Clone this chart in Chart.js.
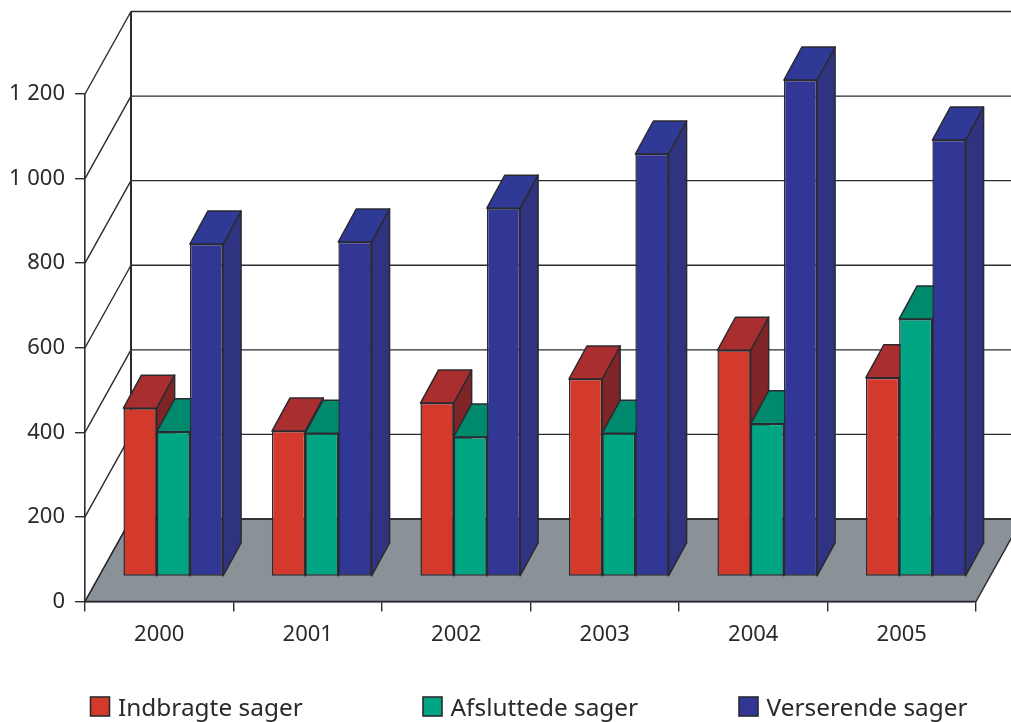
<!DOCTYPE html>
<html>
<head>
<meta charset="utf-8">
<title>Sager 2000-2005</title>
<script src="https://cdn.jsdelivr.net/npm/chart.js@4"></script>
<style>
  html, body { margin: 0; padding: 0; background: #fff; }
  #wrap { width: 1011px; height: 722px; }
</style>
</head>
<body>
<div id="wrap"><canvas id="chart" width="1011" height="722"></canvas></div>
<script>
const years = ["2000", "2001", "2002", "2003", "2004", "2005"];
const indbragte = [398, 344, 410, 467, 535, 470];
const afsluttede = [342, 339, 330, 339, 361, 609];
const verserende = [786, 791, 871, 999, 1174, 1032];
const yTickLabels = ["0", "200", "400", "600", "800", "1 000", "1 200"];

const TEXT = "#2b2a29";
const EDGE = "#2a2a30";
const FONT = '"Noto Sans", sans-serif';

// projection of the 3d box: wall depth and where bars sit on the floor
const WALL = { dx: 46, dy: -82.5 };
const BAR_SHIFT = { dx: 14, dy: -25 };
const BAR_DEPTH = { dx: 18, dy: -33 };

const faces = [
  { top: "#a82e2f", side: "#7f2527" },
  { top: "#008a6d", side: "#00755e" },
  { top: "#2f3a96", side: "#30337f" },
];
const legendX = [90.5, 423, 739];

function poly(ctx, pts, fill) {
  ctx.beginPath();
  pts.forEach((p, i) => (i ? ctx.lineTo(p[0], p[1]) : ctx.moveTo(p[0], p[1])));
  ctx.closePath();
  ctx.fillStyle = fill;
  ctx.fill();
  ctx.stroke();
}

function line(ctx, x1, y1, x2, y2) {
  ctx.beginPath();
  ctx.moveTo(x1, y1);
  ctx.lineTo(x2, y2);
  ctx.stroke();
}

function drawFaces(ctx, meta, f) {
  ctx.save();
  ctx.strokeStyle = EDGE;
  ctx.lineWidth = 1.5;
  ctx.lineJoin = "round";
  meta.data.forEach((bar) => {
    const l = bar.x - bar.width / 2;
    const r = bar.x + bar.width / 2;
    const d = BAR_DEPTH;
    poly(ctx, [[r, bar.y], [r + d.dx, bar.y + d.dy], [r + d.dx, bar.base + d.dy], [r, bar.base]], f.side);
    poly(ctx, [[l, bar.y], [r, bar.y], [r + d.dx, bar.y + d.dy], [l + d.dx, bar.y + d.dy]], f.top);
  });
  ctx.restore();
}

const box3d = {
  id: "box3d",
  // floor and walls go under the axes
  beforeDraw(chart) {
    const { ctx, scales, chartArea, width } = chart;
    const y0 = scales.y.getPixelForValue(0);
    ctx.save();
    ctx.strokeStyle = EDGE;
    ctx.lineWidth = 1.4;
    poly(ctx, [
      [chartArea.left, y0],
      [chartArea.right, y0],
      [chartArea.right + WALL.dx, y0 + WALL.dy],
      [chartArea.left + WALL.dx, y0 + WALL.dy],
    ], "#8a9197");
    yTickLabels.forEach((_, i) => {
      const y = scales.y.getPixelForValue(i * 200);
      line(ctx, chartArea.left, y, chartArea.left + WALL.dx, y + WALL.dy);
      line(ctx, chartArea.left + WALL.dx, y + WALL.dy, width, y + WALL.dy);
    });
    ctx.lineWidth = 2;
    line(ctx, chartArea.left + WALL.dx, y0 + WALL.dy, chartArea.left + WALL.dx,
      scales.y.getPixelForValue(1200) + WALL.dy);
    ctx.restore();
  },
  // chart.js paints the last dataset first, here the left bar has to go first
  beforeDatasetDraw() {
    return false;
  },
  afterDatasetsDraw(chart) {
    const ctx = chart.ctx;
    ctx.save();
    ctx.translate(BAR_SHIFT.dx, BAR_SHIFT.dy);
    chart.data.datasets.forEach((ds, i) => {
      const meta = chart.getDatasetMeta(i);
      drawFaces(ctx, meta, faces[i]);
      meta.controller.draw();
    });
    ctx.restore();
  },
  // legend has uneven gaps in the original so it is placed by hand
  afterDraw(chart) {
    const ctx = chart.ctx;
    ctx.save();
    ctx.font = "24.4px " + FONT;
    ctx.textBaseline = "alphabetic";
    chart.data.datasets.forEach((ds, i) => {
      ctx.fillStyle = ds.backgroundColor;
      ctx.strokeStyle = EDGE;
      ctx.lineWidth = 1.6;
      ctx.fillRect(legendX[i], 697, 19, 19);
      ctx.strokeRect(legendX[i], 697, 19, 19);
      ctx.fillStyle = TEXT;
      ctx.fillText(ds.label, legendX[i] + 27.5, 716);
    });
    ctx.restore();
  },
};

const barStyle = {
  borderColor: EDGE,
  borderWidth: 1.5,
  borderSkipped: false,
  barPercentage: 1,
  categoryPercentage: 0.671,
  clip: false,
};

new Chart(document.getElementById("chart"), {
  type: "bar",
  data: {
    labels: years,
    datasets: [
      { label: "Indbragte sager", data: indbragte, backgroundColor: "#d43a2c", ...barStyle },
      { label: "Afsluttede sager", data: afsluttede, backgroundColor: "#00a683", ...barStyle },
      { label: "Verserende sager", data: verserende, backgroundColor: "#323694", ...barStyle },
    ],
  },
  options: {
    responsive: false,
    animation: false,
    layout: { padding: { top: 94, right: 35, left: 0, bottom: 0 } },
    plugins: { legend: { display: false }, tooltip: { enabled: false } },
    scales: {
      x: {
        grid: { drawOnChartArea: false, tickLength: 10, color: EDGE, lineWidth: 1.4 },
        border: { color: EDGE, width: 1.6 },
        ticks: { color: TEXT, font: { family: FONT, size: 22 }, padding: 10, maxRotation: 0 },
        afterFit(scale) { scale.height = 120.5; },
      },
      y: {
        min: 0,
        max: 1200,
        grid: { drawOnChartArea: false, tickLength: 10, color: EDGE, lineWidth: 1.4 },
        border: { color: EDGE, width: 1.6 },
        ticks: {
          stepSize: 200,
          color: TEXT,
          font: { family: FONT, size: 22 },
          padding: 10,
          callback: (v) => yTickLabels[v / 200],
        },
        afterFit(scale) { scale.width = 85; },
      },
    },
  },
  plugins: [box3d],
});
</script>
</body>
</html>
